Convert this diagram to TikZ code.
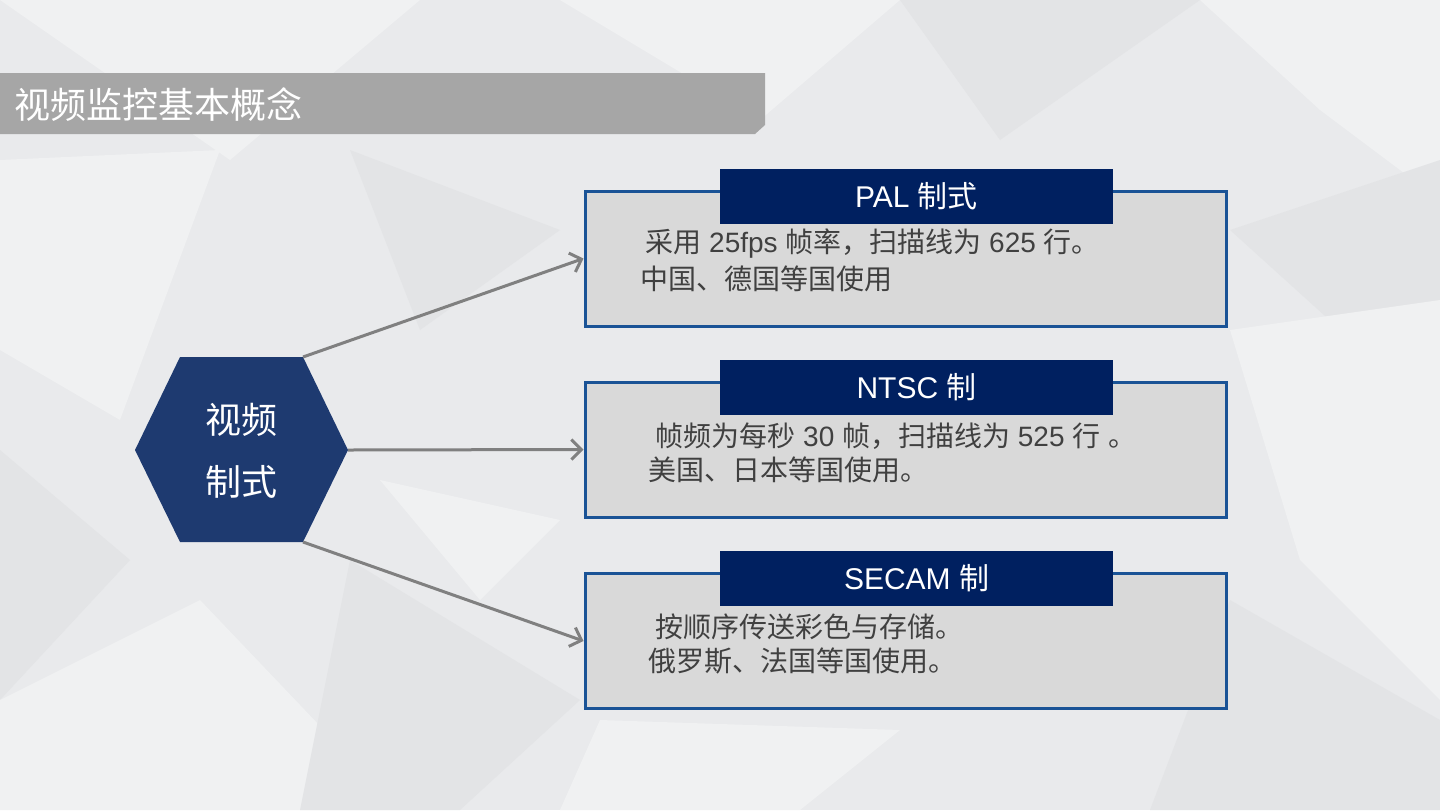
\documentclass[tikz,border=0pt]{standalone}
\usepackage{fontspec}
\setmainfont{Liberation Sans}
\newfontfamily\cjk{Noto Sans CJK SC}
\usetikzlibrary{arrows.meta}
\definecolor{bgbase}{HTML}{E9EAEC}
\definecolor{bglight}{HTML}{F0F1F2}
\definecolor{bgdark}{HTML}{E3E4E6}
\definecolor{titlegray}{HTML}{A6A6A6}
\definecolor{hexblue}{HTML}{1E3A70}
\definecolor{headblue}{HTML}{002060}
\definecolor{boxborder}{HTML}{1A5396}
\definecolor{boxfill}{HTML}{D9D9D9}
\definecolor{txtgray}{HTML}{404040}
\definecolor{arrowgray}{HTML}{808080}
\tikzset{
  infobox/.style={rectangle, draw=boxborder, fill=boxfill, line width=1.5pt,
    minimum width=320.5pt, minimum height=67.5pt, inner sep=0pt},
  headbox/.style={rectangle, fill=headblue, text=white, minimum width=196.5pt,
    minimum height=27.5pt, inner sep=0pt, font=\fontsize{15}{18}\selectfont},
  bodytext/.style={anchor=west, text=txtgray, inner sep=0pt, align=left,
    font=\fontsize{14}{17.5}\selectfont},
  link/.style={draw=arrowgray, line width=1.5pt, -{Straight Barb[length=5pt,width=10pt,line width=1.5pt]}},
}
\begin{document}
\begin{tikzpicture}[x=0.5pt,y=-0.5pt]
% background
\fill[bgbase] (0,0) rectangle (1440,810);
\useasboundingbox (0,0) rectangle (1440,810);
\fill[bglight] (0,0) -- (420,0) -- (230,160) -- cycle;
\fill[bglight] (560,0) -- (900,0) -- (760,120) -- cycle;
\fill[bgdark] (900,0) -- (1200,0) -- (1000,140) -- cycle;
\fill[bglight] (1200,0) -- (1440,0) -- (1440,200) -- (1320,110) -- cycle;
\fill[bgdark] (1230,230) -- (1440,160) -- (1440,420) -- cycle;
\fill[bglight] (1230,330) -- (1440,300) -- (1440,700) -- (1300,560) -- cycle;
\fill[bgdark] (1230,600) -- (1440,720) -- (1440,810) -- (1150,810) -- cycle;
\fill[bglight] (0,160) -- (220,150) -- (120,420) -- (0,350) -- cycle;
\fill[bgdark] (0,450) -- (130,560) -- (0,700) -- cycle;
\fill[bglight] (0,700) -- (200,600) -- (400,810) -- (0,810) -- cycle;
\fill[bgdark] (350,560) -- (580,700) -- (460,810) -- (300,810) -- cycle;
\fill[bglight] (600,720) -- (900,730) -- (800,810) -- (560,810) -- cycle;
\fill[bgdark] (350,150) -- (560,230) -- (420,330) -- cycle;
\fill[bglight] (380,480) -- (560,520) -- (480,600) -- cycle;
% title bar
\fill[titlegray] (0,73) -- (765,73) -- (765,125) -- (755,134) -- (0,134) -- cycle;
\node[anchor=west, text=white, inner sep=0pt, font=\cjk\fontsize{18}{20}\selectfont] (title) at (14,105) {视频监控基本概念};
% hexagon
\coordinate (hexL) at (135,450);
\coordinate (hexTL) at (180,357);
\coordinate (hexTR) at (303,357);
\coordinate (hexR) at (348,450);
\coordinate (hexBR) at (303,542);
\coordinate (hexBL) at (180,542);
\fill[hexblue] (hexL) -- (hexTL) -- (hexTR) -- (hexR) -- (hexBR) -- (hexBL) -- cycle;
\node[text=white, align=center, inner sep=0pt,
  font=\cjk\fontsize{18}{31}\selectfont] (hex) at (241.5,451) {视频\\制式};
% boxes
\node[infobox] (pal) at (905.5,258.5) {};
\node[infobox] (ntsc) at (905.5,449.5) {};
\node[infobox] (secam) at (905.5,641) {};
\node[headbox] (palh) at (916.5,196.5) {PAL {\cjk 制式}};
\node[headbox] (ntsch) at (916.5,387.5) {NTSC {\cjk 制}};
\node[headbox] (secamh) at (916.5,578.5) {SECAM {\cjk 制}};
% body texts
\node[bodytext] (palt1) at (645,244) {{\cjk 采用} 25fps {\cjk 帧率}{\cjk ，}{\cjk 扫描线为} 625 {\cjk 行。}};
\node[bodytext] (palt2) at (640,279) {\cjk 中国、德国等国使用};
\node[bodytext] (ntsct1) at (655,436) {{\cjk 帧频为每秒} 30 {\cjk 帧}{\cjk ，}{\cjk 扫描线为} 525 {\cjk 行} {\cjk 。}};
\node[bodytext] (ntsct2) at (648,470) {\cjk 美国、日本等国使用。};
\node[bodytext] (secamt1) at (655,627) {\cjk 按顺序传送彩色与存储。};
\node[bodytext] (secamt2) at (648,661) {\cjk 俄罗斯、法国等国使用。};
% connectors
\draw[link] (hexTR) -- (pal.west);
\draw[link] (hexR) -- (ntsc.west);
\draw[link] (hexBR) -- (secam.west);
\end{tikzpicture}
\end{document}
